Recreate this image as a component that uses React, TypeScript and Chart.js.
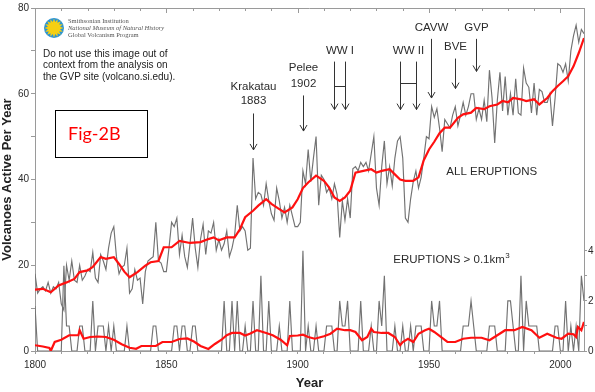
import React, { useEffect, useRef } from 'react';
import { Chart, registerables } from 'chart.js';

Chart.register(...registerables);

// ---------- DATA ----------
const START_YEAR = 1800;
const END_YEAR = 2009;

// All eruptions: volcanoes active per year (left axis), 1800..2009
const allEruptions = [
  18, 13.5, 14.5, 15, 14, 16, 13.5, 15, 14.5, 16,
  11, 9.5, 20, 16.5, 21, 16.5, 16, 20, 16.5, 17.5,
  19, 18.5, 23, 17, 16, 22.5, 21, 19, 24, 27.5,
  29, 22, 18, 19.5, 20, 24, 13.5, 14.5, 19, 16.5,
  17, 11, 18.5, 21, 21.5, 22, 30, 21, 20.5, 18.5,
  18.5, 24, 30, 29, 31, 22.5, 27, 22, 19.5, 25,
  31, 24, 19.5, 26, 29.5, 22.5, 28, 27.5, 30, 23.5,
  26, 23.5, 25, 28, 22, 24, 27, 34, 28, 29,
  28, 23.5, 24, 45, 35.5, 37, 36.5, 34, 39, 35,
  32, 30.5, 38, 35, 31, 33.5, 30, 34, 31.5, 29,
  29, 30, 42, 39, 47, 39.5, 45, 50, 34, 41,
  40, 37, 38, 35.5, 39, 36.5, 26.5, 35, 30.5, 35.5,
  31, 42.5, 43, 42, 44, 43, 44, 42, 46, 50,
  38, 34, 43, 49, 39, 43, 38.5, 45, 49, 50,
  45, 31, 30, 35.5, 39.5, 42, 38, 40.5, 45, 50,
  49.5, 57, 54.5, 56.5, 52, 46.5, 54, 53, 52, 55,
  57, 52.5, 55, 58, 55, 57, 60, 60, 54, 56.5,
  54, 58.5, 53.5, 65.5, 59, 48.5, 58.5, 65, 56, 64,
  55, 60, 55, 63.5, 55.5, 55, 66, 62.5, 61.5, 55.5,
  62.5, 55, 61, 60.5, 58, 58, 60, 52.5, 59, 67,
  66.5, 65, 67, 63, 70, 73.5, 76, 72, 75, 74,
];

// Eruptions > 0.1 km3 (right axis), 1800..2009
const largeEruptions = [
  1.8, 0, 0, 0, 0, 0, 0, 0, 0, 0,
  0, 3.4, 1, 1, 0, 0, 0, 1, 1, 0,
  0, 0, 2, 0, 1, 1, 1, 0, 1, 0,
  1, 0, 0, 0, 0, 1, 0, 0, 0, 0,
  0, 0, 0, 0, 0, 1, 1, 0, 0, 0,
  0, 0, 0, 1, 1, 0, 1, 1, 0, 0,
  1, 1, 0, 0, 0, 0, 0, 0, 0, 0,
  0, 0, 2, 0, 0, 2, 0, 2, 0, 0,
  1, 0, 0, 2, 0, 0, 3, 0, 0, 2,
  0, 0, 0, 1, 0, 0, 0, 2, 0, 0,
  0, 0, 4, 0, 1, 0, 0, 1, 0, 0,
  0, 1, 1, 1, 0, 0, 2, 1, 1, 2,
  0, 0, 0, 0, 2, 0, 0, 0, 1, 0,
  0, 2, 1, 3, 0, 0, 0, 1, 0, 0,
  1, 0, 0, 1, 0, 1, 1, 1, 0, 0,
  0, 2, 1, 1, 2, 0, 0, 0, 0, 0,
  0, 0, 0, 1, 1, 1, 2, 1, 0, 0,
  0, 0, 0, 1, 1, 1, 0, 0, 0, 0,
  2, 2, 1, 0, 0, 3, 0, 2, 1, 1,
  1, 1, 0, 0, 0, 0, 0, 0, 1, 1,
  0, 0, 2, 0, 1, 0, 1, 0, 3, 2,
];

// Running mean of all eruptions (red, left axis)
const allMeanYears = [
  1800, 1803, 1806, 1809, 1812, 1815, 1817, 1820, 1822, 1825,
  1827, 1830, 1832, 1834, 1836, 1839, 1842, 1844, 1847, 1849,
  1852, 1855, 1859, 1863, 1866, 1868, 1870, 1873, 1876, 1878,
  1880, 1883, 1885, 1888, 1890, 1893, 1895, 1898, 1900, 1902,
  1904, 1907, 1910, 1912, 1914, 1916, 1918, 1920, 1922, 1925,
  1928, 1930, 1932, 1935, 1937, 1939, 1941, 1944, 1946, 1948,
  1950, 1952, 1954, 1956, 1958, 1961, 1963, 1966, 1968, 1971,
  1973, 1976, 1978, 1980, 1982, 1985, 1987, 1990, 1992, 1995,
  1997, 1999, 2001, 2003, 2005, 2007, 2009,
];
const allMeanValues = [
  14.3, 14.5, 13.7, 15.3, 16, 16.8, 18.4, 18.8, 19.6, 21.9,
  21.5, 21.9, 20.3, 18.5, 17.2, 18.4, 19.9, 20.7, 21, 24.2,
  24.2, 25.7, 25.2, 25.4, 26.1, 26.5, 25.8, 26.5, 26.5, 28.4,
  31.2, 32.7, 33.9, 35.4, 34.3, 33.1, 32.3, 33.5, 35.4, 38,
  39.3, 40.9, 39.7, 38.1, 35.8, 35, 35.8, 37.4, 41.6, 42,
  42.4, 41.6, 42, 42.4, 41.2, 40, 39.7, 39.7, 40.5, 44.5,
  47, 48.8, 50.8, 52.1, 52.1, 54.4, 55.2, 55.6, 56.7, 56.4,
  57.1, 57.5, 58.3, 58, 59, 58.7, 58.3, 58.7, 57.5, 59,
  60.6, 61.8, 62.9, 64.1, 66.4, 69.5, 73,
];

// Running mean of eruptions > 0.1 km3 (red, right axis)
const largeMeanYears = [
  1800, 1803, 1805.5, 1806, 1807.5, 1810, 1813, 1816.5, 1817, 1818.5,
  1821, 1824, 1827, 1830, 1833, 1836, 1838.5, 1840.5, 1846, 1848.5,
  1852, 1855, 1858, 1860.5, 1863, 1866, 1868.5, 1871, 1873, 1875,
  1878, 1880, 1882, 1884.5, 1888, 1890.5, 1893.5, 1896, 1897, 1900,
  1902, 1904, 1906.5, 1910, 1912.5, 1915, 1918, 1920, 1922, 1924.5,
  1926.5, 1928, 1929, 1932, 1934.5, 1937, 1939, 1940, 1942, 1944,
  1946, 1948.5, 1950, 1952, 1954.5, 1957, 1960, 1963, 1966, 1970,
  1973, 1976, 1979, 1982.5, 1985.5, 1989, 1992, 1995, 1998.5, 2000.5,
  2003, 2005, 2006, 2006.7, 2008, 2009,
];
const largeMeanValues = [
  0.23, 0.18, 0.12, 0.0, 0.36, 0.45, 0.63, 0.63, 0.83, 0.49,
  0.56, 0.58, 0.56, 0.45, 0.27, 0.13, 0.09, 0.2, 0.2, 0.36,
  0.36, 0.48, 0.5, 0.38, 0.2, 0.08, 0.28, 0.45, 0.63, 0.72,
  0.72, 0.62, 0.7, 0.83, 0.72, 0.63, 0.45, 0.23, 0.6, 0.62,
  0.65, 0.56, 0.49, 0.59, 0.69, 0.89, 0.83, 0.83, 0.76, 0.43,
  0.56, 0.89, 0.76, 0.72, 0.72, 0.56, 0.23, 0.36, 0.49, 0.36,
  0.69, 0.83, 0.89, 0.76, 0.56, 0.36, 0.36, 0.49, 0.53, 0.53,
  0.43, 0.63, 0.83, 0.83, 0.96, 0.83, 0.53, 0.69, 0.53, 0.49,
  0.69, 0.67, 0.56, 0.96, 0.83, 1.16,
];

const xTickLabels = [1800, 1850, 1900, 1950, 2000];
const leftTickLabels = [0, 20, 40, 60, 80];
const rightTickValues = [0, 1, 2, 3, 4];
const rightTickLabels = [0, 2, 4];

// Event annotations (positions in data units)
const pointEvents = [
  { lines: ['Krakatau', '1883'], year: 1883, textAt: [61.6, 58.4], arrow: [55.4, 46.9] },
  { lines: ['Pelee', '1902'], year: 1902, textAt: [66.0, 62.3], arrow: [59.6, 51.3] },
  { lines: ['CAVW'], year: 1950.8, textAt: [75.4], arrow: [72.8, 59.0] },
  { lines: ['BVE'], year: 1959.8, textAt: [71.0], arrow: [68.2, 61.2] },
  { lines: ['GVP'], year: 1967.8, textAt: [75.4], arrow: [72.8, 65.2] },
];
const spanEvents = [
  { label: 'WW I', years: [1914, 1918], textAt: 70.1, arrow: [67.5, 56.3], bar: 61.9 },
  { label: 'WW II', years: [1939, 1945], textAt: 70.1, arrow: [67.5, 56.3], bar: 62.4 },
];

const SANS = '"Liberation Sans", Arial, Helvetica, sans-serif';
const SERIF = '"Liberation Serif", "Times New Roman", serif';
const GRAY_LINE = '#727272';
const RED = '#ff1010';
const AXIS = '#9a9a9a';
const TEXT = '#2b2b2b';

function drawArrow(ctx: CanvasRenderingContext2D, x: number, y1: number, y2: number) {
  ctx.beginPath();
  ctx.moveTo(x, y1);
  ctx.lineTo(x, y2);
  ctx.moveTo(x - 3.5, y2 - 6);
  ctx.lineTo(x, y2);
  ctx.lineTo(x + 3.5, y2 - 6);
  ctx.stroke();
}

const decorPlugin = {
  id: 'decor',
  afterDraw(chart: any) {
    const { ctx, chartArea: a, scales } = chart;
    const sx = scales.x;
    const sy = scales.y;
    const px = (v: number) => sx.getPixelForValue(v);
    const py = (v: number) => sy.getPixelForValue(v);
    ctx.save();

    // top frame with inward ticks
    ctx.strokeStyle = AXIS;
    ctx.lineWidth = 1;
    ctx.beginPath();
    ctx.moveTo(a.left, a.top + 0.5);
    ctx.lineTo(a.right, a.top + 0.5);
    ctx.stroke();
    for (let yr = START_YEAR; yr <= END_YEAR; yr += 10) {
      const x = Math.round(px(yr)) + 0.5;
      ctx.beginPath();
      ctx.moveTo(x, a.top);
      ctx.lineTo(x, a.top + (xTickLabels.includes(yr) ? 5 : 3));
      ctx.stroke();
    }

    // Smithsonian logo
    const cx = a.left + 19;
    const cy = a.top + 20;
    ctx.fillStyle = '#2a93d5';
    ctx.beginPath();
    ctx.arc(cx, cy, 10, 0, Math.PI * 2);
    ctx.fill();
    ctx.fillStyle = '#f5cf12';
    ctx.beginPath();
    const n = 16;
    for (let i = 0; i < n * 2; i++) {
      const r = i % 2 === 0 ? 9.6 : 6.2;
      const ang = (i * Math.PI) / n - Math.PI / 2;
      const xx = cx + r * Math.cos(ang);
      const yy = cy + r * Math.sin(ang);
      if (i === 0) ctx.moveTo(xx, yy);
      else ctx.lineTo(xx, yy);
    }
    ctx.closePath();
    ctx.fill();

    ctx.fillStyle = '#555';
    ctx.textAlign = 'left';
    ctx.textBaseline = 'middle';
    ctx.font = `6.5px ${SERIF}`;
    ctx.fillText('Smithsonian Institution', a.left + 33, a.top + 13);
    ctx.font = `italic 6.5px ${SERIF}`;
    ctx.fillText('National Museum of Natural History', a.left + 33, a.top + 20);
    ctx.font = `6.5px ${SERIF}`;
    ctx.fillText('Global Volcanism Program', a.left + 33, a.top + 27);

    // disclaimer
    ctx.fillStyle = '#222';
    ctx.font = `10px ${SANS}`;
    ctx.fillText('Do not use this image out of', a.left + 8, a.top + 46);
    ctx.fillText('context from the analysis on', a.left + 8, a.top + 57.5);
    ctx.fillText('the GVP site (volcano.si.edu).', a.left + 8, a.top + 69);

    // Fig-2B box
    ctx.fillStyle = '#fff';
    ctx.fillRect(a.left + 20, a.top + 102, 92, 47);
    ctx.strokeStyle = '#000';
    ctx.lineWidth = 1;
    ctx.strokeRect(a.left + 20.5, a.top + 102.5, 92, 47);
    ctx.fillStyle = '#ff0000';
    ctx.font = `18px Lato, "Open Sans", ${SANS}`;
    ctx.textBaseline = 'alphabetic';
    ctx.fillText('Fig-2B', a.left + 33, a.top + 132);

    // event labels + arrows
    ctx.fillStyle = TEXT;
    ctx.strokeStyle = '#333';
    ctx.lineWidth = 1;
    ctx.textAlign = 'center';
    ctx.textBaseline = 'middle';
    ctx.font = `11.5px ${SANS}`;
    pointEvents.forEach((ev) => {
      const x = Math.round(px(ev.year)) + 0.5;
      ev.lines.forEach((ln, i) => ctx.fillText(ln, x, py(ev.textAt[i])));
      drawArrow(ctx, x, py(ev.arrow[0]), py(ev.arrow[1]));
    });
    spanEvents.forEach((ev) => {
      const x1 = Math.round(px(ev.years[0])) + 0.5;
      const x2 = Math.round(px(ev.years[1])) + 0.5;
      ctx.fillText(ev.label, (x1 + x2) / 2, py(ev.textAt));
      drawArrow(ctx, x1, py(ev.arrow[0]), py(ev.arrow[1]));
      drawArrow(ctx, x2, py(ev.arrow[0]), py(ev.arrow[1]));
      const yb = Math.round(py(ev.bar)) + 0.5;
      ctx.beginPath();
      ctx.moveTo(x1, yb);
      ctx.lineTo(x2, yb);
      ctx.stroke();
    });

    // series labels
    ctx.textAlign = 'left';
    ctx.font = `11.5px ${SANS}`;
    ctx.fillText('ALL ERUPTIONS', px(1956.6), py(41.8));
    const lx = px(1936.4);
    const ly = py(21.3);
    const main = 'ERUPTIONS > 0.1km';
    ctx.fillText(main, lx, ly);
    const w = ctx.measureText(main).width;
    ctx.font = `8px ${SANS}`;
    ctx.fillText('3', lx + w + 0.5, ly - 4);

    ctx.restore();
  },
};

export default function App() {
  const ref = useRef<HTMLCanvasElement>(null);

  useEffect(() => {
    if (!ref.current) return;
    const allData = allEruptions.map((v, i) => ({ x: START_YEAR + i, y: v }));
    const largeData = largeEruptions.map((v, i) => ({ x: START_YEAR + i, y: v }));
    const allMean = allMeanYears.map((yr, i) => ({ x: yr, y: allMeanValues[i] }));
    const largeMean = largeMeanYears.map((yr, i) => ({ x: yr, y: largeMeanValues[i] }));

    const chart = new Chart(ref.current, {
      type: 'line',
      data: {
        datasets: [
          { data: allMean, yAxisID: 'y', borderColor: RED, borderWidth: 2.2, pointRadius: 0, tension: 0, order: 0 },
          { data: largeMean, yAxisID: 'y2', borderColor: RED, borderWidth: 2.2, pointRadius: 0, tension: 0, order: 0 },
          { data: allData, yAxisID: 'y', borderColor: GRAY_LINE, borderWidth: 1.15, pointRadius: 0, tension: 0, order: 1 },
          { data: largeData, yAxisID: 'y2', borderColor: GRAY_LINE, borderWidth: 1.15, pointRadius: 0, tension: 0, order: 1 },
        ],
      },
      options: {
        responsive: false,
        animation: false,
        events: [],
        layout: { padding: { top: 6, left: 0, right: 0, bottom: 0 } },
        plugins: { legend: { display: false }, tooltip: { enabled: false } },
        scales: {
          x: {
            type: 'linear',
            min: START_YEAR,
            max: END_YEAR,
            afterBuildTicks: (s: any) => {
              const t: { value: number }[] = [];
              for (let yr = START_YEAR; yr <= END_YEAR; yr += 10) t.push({ value: yr });
              s.ticks = t;
            },
            afterFit: (s: any) => {
              s.height = 41;
            },
            ticks: {
              autoSkip: false,
              includeBounds: false,
              maxRotation: 0,
              padding: 5,
              color: TEXT,
              font: { family: SANS, size: 10 },
              callback: (v: any) => (xTickLabels.includes(Number(v)) ? String(v) : ''),
            },
            grid: { drawOnChartArea: false, drawTicks: true, tickLength: 3, color: AXIS },
            border: { display: true, color: AXIS },
            title: {
              display: true,
              text: 'Year',
              color: '#222',
              font: { family: SANS, size: 13, weight: 'bold' },
              padding: { top: 0, bottom: 1 },
            },
          },
          y: {
            type: 'linear',
            position: 'left',
            min: 0,
            max: 80,
            afterFit: (s: any) => {
              s.width = 35;
            },
            ticks: {
              stepSize: 10,
              padding: 2,
              color: TEXT,
              font: { family: SANS, size: 10 },
              callback: (v: any) => (leftTickLabels.includes(Number(v)) ? String(v) : ''),
            },
            grid: { drawOnChartArea: false, drawTicks: true, tickLength: 4, color: AXIS },
            border: { display: true, color: AXIS },
            title: {
              display: true,
              text: 'Volcanoes Active Per Year',
              color: '#222',
              font: { family: SANS, size: 13, weight: 'bold' },
              padding: { top: 0, bottom: 0 },
            },
          },
          y2: {
            type: 'linear',
            position: 'right',
            min: 0,
            max: 13.7,
            afterBuildTicks: (s: any) => {
              s.ticks = rightTickValues.map((v) => ({ value: v }));
            },
            afterFit: (s: any) => {
              s.width = 11;
            },
            ticks: {
              padding: 1,
              color: TEXT,
              font: { family: SANS, size: 10 },
              callback: (v: any) => (rightTickLabels.includes(Number(v)) ? String(v) : ''),
            },
            grid: { drawOnChartArea: false, drawTicks: true, tickLength: 3, color: AXIS },
            border: { display: true, color: AXIS },
          },
        },
      },
      plugins: [decorPlugin],
    } as any);
    return () => chart.destroy();
  }, []);

  return (
    <div style={{ position: 'absolute', left: 0, top: 0, width: 595, height: 392, background: '#fff' }}>
      <canvas ref={ref} width={595} height={392} style={{ display: 'block' }} />
    </div>
  );
}
